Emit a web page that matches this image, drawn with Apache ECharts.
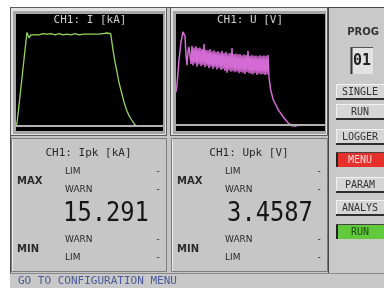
<!DOCTYPE html>
<html>
<head>
<meta charset="utf-8">
<script src="https://cdn.jsdelivr.net/npm/echarts@6/dist/echarts.min.js"></script>
<style>
html, body { margin: 0; padding: 0; background: #fff; }
#chart { width: 384px; height: 288px; }
</style>
</head>
<body>
<div id="chart"></div>
<script>
// CH1 current trace: sample index, kA
const iTime = [0, 1, 3, 5, 7, 9, 11, 13, 15, 17, 19, 21, 23, 25, 27, 29, 31, 33, 35, 37, 39, 41, 43, 45, 47, 49,
  51, 53, 55, 57, 59, 61, 63, 65, 67, 69, 71, 73, 75, 77, 79, 81, 83, 85, 87, 89, 91, 93, 94.7,
  97, 99, 100.7, 103, 105.7, 108, 110.7, 113, 115.7, 118, 120.7, 147]
const iAmp = [0, 0.5, 3.4, 6.4, 9.4, 12.4, 15.3, 14.4, 14.9, 15.0, 14.9, 15.1, 14.9, 15.0, 15.1, 14.9, 15.0, 14.9, 15.1, 15.0, 14.9, 15.0, 15.1, 15.0, 14.9, 15.1,
  15.0, 15.1, 14.9, 15.0, 15.1, 15.0, 14.9, 15.1, 15.0, 15.1, 15.0, 15.1, 15.0, 15.1, 15.0, 15.2, 15.0, 15.1, 15.1, 15.0, 15.2, 15.1, 15.1,
  12.4, 10.5, 9.1, 7.1, 5.4, 3.9, 2.6, 1.7, 1.0, 0.4, 0, 0]

// CH1 voltage trace: sample index, V
const uTime = [0, 1, 3, 5, 7, 8, 9, 10, 11, 12, 13,
  14, 15, 16, 17, 18, 19, 20, 21, 22, 23, 24, 25, 26, 27, 28, 29, 30, 31, 32, 33, 34, 35, 36, 37, 38, 39,
  40, 41, 42, 43, 44, 45, 46, 47, 48, 49, 50, 51, 52, 53, 54, 55, 56, 57, 58, 59, 60, 61, 62, 63, 64, 65,
  66, 67, 68, 69, 70, 71, 72, 73, 74, 75, 76, 77, 78, 79, 80, 81, 82, 83, 84, 85, 86, 87, 88, 89, 90, 91, 92,
  93, 94.7, 97.3, 102.3, 107.3, 112.3, 116, 119, 124, 149]
const uVolt = [1.20, 1.46, 2.37, 3.02, 3.39, 3.46, 3.24, 2.55, 2.18, 2.66, 2.84,
  2.86, 2.22, 2.88, 2.17, 2.82, 2.24, 2.86, 2.12, 2.80, 2.20, 2.82, 2.14, 2.76, 2.18, 2.95, 2.10, 2.74, 2.16, 2.72, 2.07, 2.76, 2.12, 2.68, 2.04, 2.72, 2.10,
  2.66, 2.02, 2.68, 2.08, 2.64, 2.00, 2.70, 2.04, 2.62, 1.97, 2.66, 1.90, 2.60, 1.98, 2.62, 1.94, 2.80, 1.96, 2.58, 1.92, 2.60, 1.95, 2.57, 1.88, 2.58, 1.92,
  2.54, 1.90, 2.56, 1.86, 2.55, 1.92, 2.70, 1.88, 2.52, 1.87, 2.55, 1.84, 2.52, 1.89, 2.53, 1.82, 2.50, 1.87, 2.54, 1.84, 2.52, 1.86, 2.53, 1.82, 2.52, 1.84, 2.55,
  1.75, 1.27, 0.91, 0.55, 0.29, 0.07, -0.03, -0.04, 0, 0]

const ipkValue = '15.291'
const upkValue = '3.4587'
const buttonLabels = ['SINGLE', 'RUN', 'LOGGER', 'MENU', 'PARAM', 'ANALYS', 'RUN']
const buttonTops = [84, 104, 129, 152, 177, 200, 224]

const mono = '"DejaVu Sans Mono", monospace'
const sans = '"DejaVu Sans", sans-serif'

const chart = echarts.init(document.getElementById('chart'), null, { renderer: 'canvas' })

function txt(x, y, text, font, fill, align) {
  return { type: 'text', x: x, y: y, style: { text: text, font: font, fill: fill, textAlign: align || 'left', textVerticalAlign: 'middle' } }
}
function rect(x, y, w, h, fill, stroke) {
  return { type: 'rect', shape: { x: x, y: y, width: w, height: h }, style: { fill: fill, stroke: stroke || null, lineWidth: 1 } }
}
function line(x1, y1, x2, y2, color, w) {
  return { type: 'line', shape: { x1: x1, y1: y1, x2: x2, y2: y2 }, style: { stroke: color, lineWidth: w || 1 } }
}

const g = []
// frame of the instrument screen
g.push(rect(10, 7, 374, 281, '#c5c5c5'))
g.push(line(10, 7.5, 384, 7.5, '#4a4a4a'))
g.push(line(10.5, 7, 10.5, 288, '#4a4a4a'))

// scope panels
function scopeFrame(x, w) {
  g.push(rect(x + 0.5, 7.5, w, 128, '#e2e2e2', '#5a5a5a'))
  g.push(rect(x + 3, 11, w - 4, 123, '#a6a6a6'))
}
scopeFrame(10, 156)
scopeFrame(170, 157)
g.push(rect(16, 14, 147, 117, '#000'))
g.push(rect(176, 14, 149, 117, '#000'))
g.push(txt(90, 20, 'CH1: I [kA]', '11px ' + mono, '#d0d0d0', 'center'))
g.push(txt(250, 20, 'CH1: U [V]', '11px ' + mono, '#d0d0d0', 'center'))

// right side column
g.push(rect(329, 8, 55, 265, '#c9c9c9'))
g.push(line(328.5, 7, 328.5, 273, '#4a4a4a'))
g.push(txt(363, 32, 'PROG', 'bold 10px ' + sans, '#333', 'center'))
g.push(rect(351, 47, 22, 27, '#e2e2e2'))
g.push(line(351.5, 47, 351.5, 74, '#333', 2))
g.push(line(351, 47.5, 373, 47.5, '#555'))
g.push(txt(362, 61, '01', 'bold 15px ' + mono, '#222', 'center'))

buttonLabels.forEach(function (label, k) {
  const y = buttonTops[k]
  const h = 15
  let fill = '#d6d6d6', color = '#333', pressed = false
  if (label === 'MENU') { fill = '#e5302c'; color = '#ffd6d6'; pressed = true }
  if (k === 6) { fill = '#62c83c'; color = '#1d4d10'; pressed = true }
  g.push(rect(336, y, 48, h, fill))
  if (pressed) {
    g.push(line(337, y, 337, y + h, '#222', 2))
    g.push(line(336, y + 0.5, 384, y + 0.5, '#444'))
  } else {
    g.push(line(336.5, y, 336.5, y + h, '#f2f2f2'))
    g.push(line(336, y + 0.5, 384, y + 0.5, '#f2f2f2'))
    g.push(line(336, y + h, 384, y + h, '#2e2e2e', 2))
  }
  g.push(txt(360, y + h / 2 + 0.5, label, '10px ' + mono, color, 'center'))
})

// readout panels
function readout(x, w, title, value, valueX) {
  g.push(rect(x + 0.5, 138.5, w, 133, '#c6c6c6', '#7c7c7c'))
  g.push(line(x + 1.5, 139, x + 1.5, 271, '#ececec'))
  g.push(txt(x + w / 2, 153, title, '11px ' + mono, '#2a2a2a', 'center'))
  g.push(txt(x + 6, 181, 'MAX', 'bold 10px ' + sans, '#2a2a2a'))
  g.push(txt(x + 6, 249, 'MIN', 'bold 10px ' + sans, '#2a2a2a'))
  g.push(txt(x + 54, 172, 'LIM', '9px ' + sans, '#2a2a2a'))
  g.push(txt(x + 54, 190, 'WARN', '9px ' + sans, '#2a2a2a'))
  g.push(txt(x + 54, 240, 'WARN', '9px ' + sans, '#2a2a2a'))
  g.push(txt(x + 54, 258, 'LIM', '9px ' + sans, '#2a2a2a'))
  ;[172, 190, 240, 258].forEach(function (y) {
    g.push(txt(x + w - 8, y, '-', '9px ' + sans, '#2a2a2a', 'center'))
  })
  const big = txt(valueX, 214, value, '27px ' + mono, '#161616', 'center')
  big.scaleX = 0.88
  g.push(big)
}
readout(11, 155, 'CH1: Ipk [kA]', ipkValue, 106)
readout(171, 156, 'CH1: Upk [V]', upkValue, 270)

// status line
g.push(rect(10, 273, 374, 15, '#c8c8c8'))
g.push(line(10, 273.5, 384, 273.5, '#8a8a8a'))
g.push(txt(18, 281, 'GO TO CONFIGURATION MENU', '11px ' + mono, '#4c5c9c'))

const baseline = {
  silent: true, symbol: 'none', label: { show: false },
  lineStyle: { color: '#b2b2b2', width: 2, type: 'solid' },
  data: [{ yAxis: 0 }]
}

chart.setOption({
  animation: false,
  backgroundColor: '#ffffff',
  graphic: { elements: g },
  grid: [
    { left: 16, top: 14, width: 147, height: 117 },
    { left: 176, top: 14, width: 149, height: 117 }
  ],
  xAxis: [
    { type: 'value', gridIndex: 0, min: 0, max: 147, show: false },
    { type: 'value', gridIndex: 1, min: 0, max: 149, show: false }
  ],
  yAxis: [
    { type: 'value', gridIndex: 0, min: -0.8, max: 18.3, show: false },
    { type: 'value', gridIndex: 1, min: -0.22, max: 4.04, show: false }
  ],
  series: [{
    type: 'line', xAxisIndex: 0, yAxisIndex: 0, symbol: 'none',
    data: iTime.map((t, k) => [t, iAmp[k]]),
    lineStyle: { color: '#96d45a', width: 1.3 },
    markLine: baseline
  }, {
    type: 'line', xAxisIndex: 1, yAxisIndex: 1, symbol: 'none',
    data: uTime.map((t, k) => [t, uVolt[k]]),
    lineStyle: { color: '#d46ad4', width: 1.5 },
    markLine: baseline
  }]
})
</script>
</body>
</html>
